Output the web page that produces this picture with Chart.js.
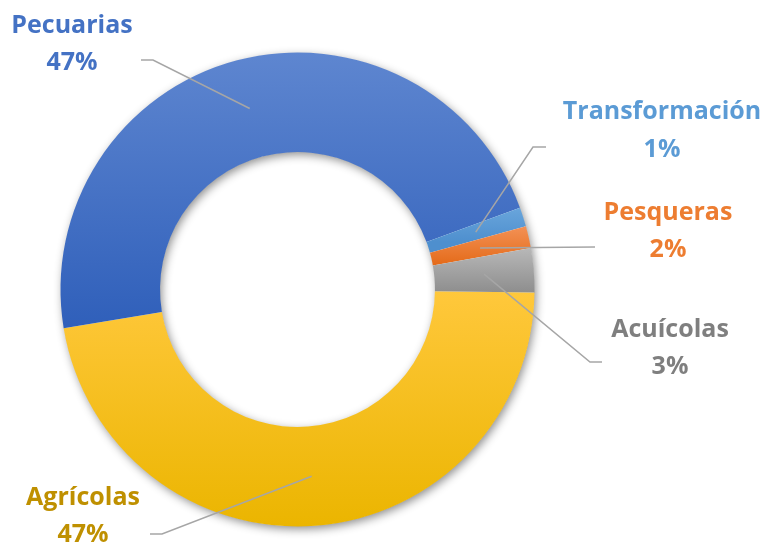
<!DOCTYPE html>
<html>
<head>
<meta charset="utf-8">
<script src="https://cdn.jsdelivr.net/npm/chart.js@4/dist/chart.umd.min.js"></script>
<style>
  html, body { margin: 0; padding: 0; background: #ffffff; }
  #wrap { width: 765px; height: 544px; }
</style>
</head>
<body>
<div id="wrap"><canvas id="c" width="765" height="544"></canvas></div>
<script>
// ---- data ----
const categories = ['Agrícolas', 'Pecuarias', 'Transformación', 'Pesqueras', 'Acuícolas'];
const values = [47.2, 47.0, 1.3, 1.5, 3.0];
const percentLabels = ['47%', '47%', '1%', '2%', '3%'];

// ---- styles ----
// gradient: [startFraction, endFraction] of radius relative to center y, [topColor, bottomColor]
const sliceGradients = [
  [[0.0, 1.0], ['#FFC83C', '#EBB500']],
  [[-1.0, 0.17], ['#5E86D0', '#2F5FBA']],
  [[-0.35, -0.2], ['#6AA6DC', '#4E8FCE']],
  [[-0.28, -0.1], ['#F4945A', '#E46A18']],
  [[-0.18, 0.02], ['#B9B9B9', '#8C8C8C']]
];
const textColors = ['#BF9000', '#4472C4', '#5B9BD5', '#ED7D31', '#7F7F7F'];
// label layout: text center x, baseline of name, baseline of percent, leader path points after slice center
const labelLayout = [
  { x: 83,  y1: 505, y2: 542, path: [[162, 534], [150, 534]] },
  { x: 72,  y1: 33,  y2: 70,  path: [[153, 60], [141, 60]] },
  { x: 662, y1: 119, y2: 157, path: [[533, 147], [546, 147]] },
  { x: 668, y1: 220, y2: 257, path: [[595, 247]] },
  { x: 670, y1: 337, y2: 374, path: [[590, 362], [602, 362]] }
];

function bg(ctx) {
  const chart = ctx.chart;
  const ca = chart.chartArea;
  const spec = sliceGradients[ctx.dataIndex];
  if (!ca) return spec[1][0];
  const cy = (ca.top + ca.bottom) / 2;
  const r = Math.min(ca.right - ca.left, ca.bottom - ca.top) / 2;
  const g = chart.ctx.createLinearGradient(0, cy + spec[0][0] * r, 0, cy + spec[0][1] * r);
  g.addColorStop(0, spec[1][0]);
  g.addColorStop(1, spec[1][1]);
  return g;
}

const ringShadow = {
  id: 'ringShadow',
  beforeDatasetsDraw(chart) {
    const a = chart.getDatasetMeta(0).data[0];
    if (!a) return;
    const ctx = chart.ctx;
    ctx.save();
    ctx.shadowColor = 'rgba(0,0,0,0.45)';
    ctx.shadowBlur = 10;
    ctx.shadowOffsetX = 2;
    ctx.shadowOffsetY = 3;
    ctx.beginPath();
    ctx.arc(a.x, a.y, a.outerRadius - 0.5, 0, Math.PI * 2);
    ctx.arc(a.x, a.y, a.innerRadius + 0.5, 0, Math.PI * 2, true);
    ctx.closePath();
    ctx.fillStyle = '#ffffff';
    ctx.fill();
    ctx.restore();
  }
};

const labelsPlugin = {
  id: 'calloutLabels',
  afterDatasetsDraw(chart) {
    const ctx = chart.ctx;
    const meta = chart.getDatasetMeta(0);
    meta.data.forEach((arc, i) => {
      const lay = labelLayout[i];
      const p = arc.getCenterPoint();
      ctx.save();
      ctx.strokeStyle = '#A6A6A6';
      ctx.lineWidth = 1.5;
      ctx.beginPath();
      ctx.moveTo(p.x, p.y);
      lay.path.forEach(pt => ctx.lineTo(pt[0], pt[1]));
      ctx.stroke();
      ctx.fillStyle = textColors[i];
      ctx.font = 'bold 25px "Open Sans"';
      ctx.textAlign = 'center';
      ctx.textBaseline = 'alphabetic';
      ctx.fillText(categories[i], lay.x, lay.y1);
      ctx.fillText(percentLabels[i], lay.x, lay.y2);
      ctx.restore();
    });
  }
};

new Chart(document.getElementById('c'), {
  type: 'doughnut',
  data: {
    labels: categories,
    datasets: [{
      data: values,
      backgroundColor: bg,
      borderWidth: 0,
      hoverOffset: 0
    }]
  },
  options: {
    responsive: false,
    animation: false,
    rotation: 90.7,
    cutout: '58%',
    layout: { padding: { left: 60.5, right: 230.5, top: 52.5, bottom: 17.5 } },
    plugins: {
      legend: { display: false },
      tooltip: { enabled: false }
    }
  },
  plugins: [ringShadow, labelsPlugin]
});
</script>
</body>
</html>
